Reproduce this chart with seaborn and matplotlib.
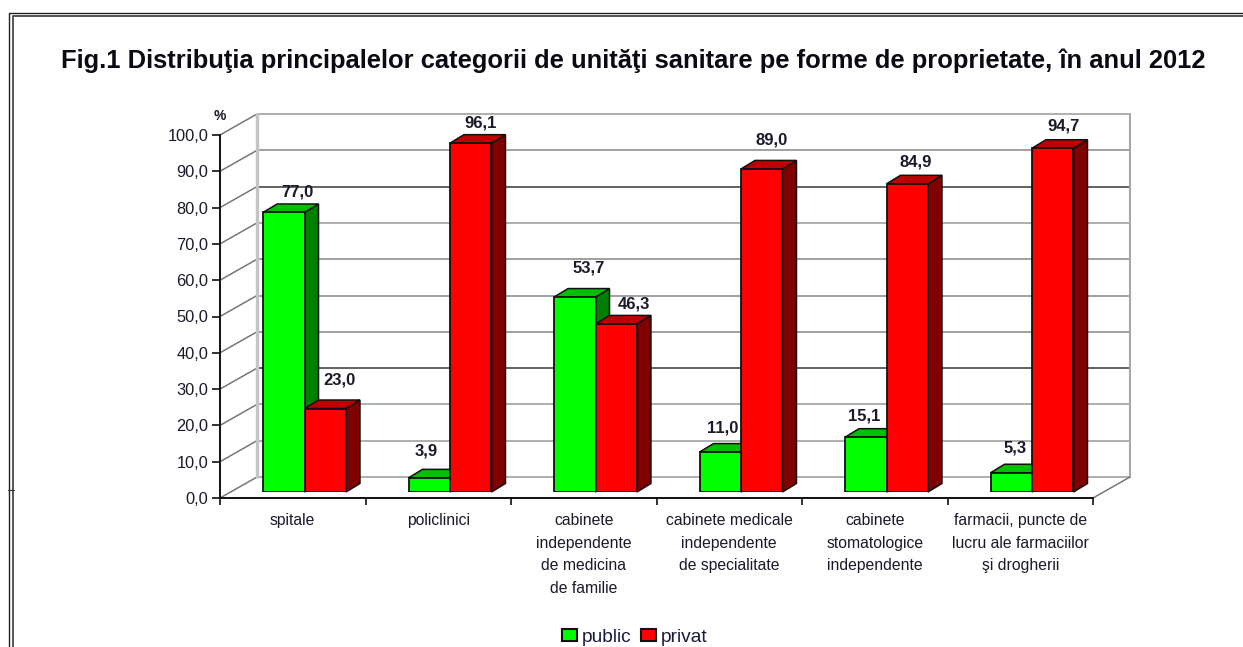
import pandas as pd
import seaborn as sns
import matplotlib.pyplot as plt
from matplotlib.lines import Line2D
from matplotlib.patches import Patch, Polygon
from matplotlib.transforms import IdentityTransform

categories = ['spitale', 'policlinici', 'cabinete\nindependente\nde medicina\nde familie',
              'cabinete medicale\nindependente\nde specialitate',
              'cabinete\nstomatologice\nindependente',
              'farmacii, puncte de\nlucru ale farmaciilor\nşi drogherii']
public = [77.0, 3.9, 53.7, 11.0, 15.1, 5.3]
privat = [23.0, 96.1, 46.3, 89.0, 84.9, 94.7]
y_ticks = [0, 10, 20, 30, 40, 50, 60, 70, 80, 90, 100]
# grid lines come out lighter or darker in the source image
grid_colors = ['#a8a8a8', '#a8a8a8', '#a8a8a8', '#555555', '#999999', '#999999',
               '#999999', '#a8a8a8', '#555555', '#999999', '#a8a8a8']

W, H = 1243, 647
FRONT = (220, 1093, 498, 135)   # left, right, bottom, top in image pixels
BAR_SHIFT = (11.75, 6)
WALL_SHIFT = (37, 21)
SIDE = (14, 8.5)

sns.set_theme(style='white')
plt.rcParams['font.family'] = ['Liberation Sans', 'DejaVu Sans']

df = pd.DataFrame({
    'cat': categories * 2,
    'forma': ['public'] * 6 + ['privat'] * 6,
    'val': public + privat,
})

fig = plt.figure(figsize=(W / 100, H / 100), dpi=100, facecolor='white')


def box(shift=(0, 0)):
    l, r, b, t = FRONT
    return [(l + shift[0]) / W, (H - b + shift[1]) / H, (r - l) / W, (b - t) / H]


ax_f = fig.add_axes(box(), zorder=1)
ax_f.patch.set_alpha(0)
ax_f.set_xlim(-0.5, 5.5)
ax_f.set_ylim(0, 100)
sns.despine(ax=ax_f)
for s in ['left', 'bottom']:
    ax_f.spines[s].set_linewidth(1.4)
    ax_f.spines[s].set_color('#111111')
ax_f.set_yticks(y_ticks)
ax_f.set_yticklabels([('%.1f' % v).replace('.', ',') for v in y_ticks], fontsize=11.8, color='#1a1a2a')
ax_f.set_xticks([i - 0.5 for i in range(7)])
ax_f.set_xticklabels([])
ax_f.set_xticks(range(6), labels=categories, minor=True, fontsize=11.3, color='#1a1a2a', linespacing=1.66, va='top')
ax_f.tick_params(axis='x', which='major', length=5, width=1.2, color='#111111', bottom=True)
ax_f.tick_params(axis='x', which='minor', length=0, pad=10.5)
ax_f.tick_params(axis='y', length=5.5, width=1.2, color='#111111', left=True, pad=3)

# back walls, in pixels relative to the front axes
trans = IdentityTransform()
wx, wy = WALL_SHIFT
for v, c in zip(y_ticks, grid_colors):
    x0, y0 = ax_f.transData.transform((-0.5, v))
    x1, _ = ax_f.transData.transform((5.5, v))
    ax_f.add_line(Line2D([x0, x0 + wx], [y0, y0 + wy], color='#777777', lw=1.1, transform=trans, clip_on=False, zorder=1))
    ax_f.add_line(Line2D([x0 + wx, x1 + wx], [y0 + wy, y0 + wy], color=c, lw=1.3, transform=trans, clip_on=False, zorder=1))
x0, y0 = ax_f.transData.transform((-0.5, 0))
x1, y1 = ax_f.transData.transform((5.5, 100))
ax_f.add_line(Line2D([x0 + wx] * 2, [y0 + wy, y1 + wy], color='#c4c4c4', lw=2.4, transform=trans, clip_on=False, zorder=1))
ax_f.add_line(Line2D([x1 + wx] * 2, [y0 + wy, y1 + wy], color='#a8a8a8', lw=1.5, transform=trans, clip_on=False, zorder=1))
ax_f.add_line(Line2D([x1, x1 + wx], [y0, y0 + wy], color='#777777', lw=1.1, transform=trans, clip_on=False, zorder=1))

ax = fig.add_axes(box(BAR_SHIFT), zorder=2)
ax.patch.set_alpha(0)
sns.barplot(data=df, x='cat', y='val', hue='forma', hue_order=['public', 'privat'],
            palette={'public': '#00ff00', 'privat': '#ff0000'}, width=0.57, gap=0, saturation=1,
            edgecolor='#111111', linewidth=1.3, legend=False, ax=ax, zorder=3)
ax.set_xlim(-0.5, 5.5)
ax.set_ylim(0, 100)
ax.axis('off')

# fake 3d sides, built from the real bar rectangles
sx, sy = SIDE
shades = [('#00c000', '#008000'), ('#c00000', '#800000')]
# nudges for the value labels, the source places them unevenly (pixels)
nudge_x = [[14, -3, 14, 2, -2, 4], [14, 10, 18, 10, 8, 11]]
nudge_y = [[20, 27, 29, 24, 21, 25], [29, 20, 20, 29, 22, 22]]
for k, cont in enumerate(ax.containers):
    for i, bar in enumerate(cont):
        bb = bar.get_window_extent()
        top = Polygon([(bb.x0, bb.y1), (bb.x1, bb.y1), (bb.x1 + sx, bb.y1 + sy), (bb.x0 + sx, bb.y1 + sy)],
                      fc=shades[k][0], ec='#111111', lw=1.1, transform=trans, clip_on=False, zorder=2)
        side = Polygon([(bb.x1, bb.y0), (bb.x1 + sx, bb.y0 + sy), (bb.x1 + sx, bb.y1 + sy), (bb.x1, bb.y1)],
                       fc=shades[k][1], ec='#111111', lw=1.1, transform=trans, clip_on=False, zorder=2)
        ax.add_patch(side)
        ax.add_patch(top)
        val = bar.get_height()
        ax.annotate(('%.1f' % val).replace('.', ','), (bar.get_x() + bar.get_width() / 2, val),
                    xytext=(nudge_x[k][i] * 0.72, nudge_y[k][i] * 0.72), textcoords='offset points',
                    ha='center', va='center', fontsize=12, fontweight='bold', color='#1a1a2a',
                    annotation_clip=False, zorder=5)

fig.text(633.5 / W, 1 - 60.5 / H, 'Fig.1 Distribuţia principalelor categorii de unităţi sanitare pe forme de proprietate, în anul 2012',
         ha='center', va='center', fontsize=18.34, fontweight='bold', color='#0a0a14')
fig.text(220 / W, 1 - 116 / H, '%', ha='center', va='center', fontsize=10, fontweight='bold', color='#1a1a2a')

handles = [Patch(fc='#00ff00', ec='#111111', lw=1.5, label='public'),
           Patch(fc='#ff0000', ec='#111111', lw=1.5, label='privat')]
fig.legend(handles=handles, loc='center', bbox_to_anchor=(634.5 / W, 1 - 637 / H), ncol=2, frameon=False,
           fontsize=13.8, handlelength=0.78, handleheight=0.62, handletextpad=0.25, columnspacing=0.5,
           borderpad=0, labelcolor='#1a1a3a')


# scanned page frame
def frame(xs, ys, c, lw):
    fig.add_artist(Line2D([x / W for x in xs], [1 - y / H for y in ys], color=c, lw=lw))


frame([8.5, 8.5, W], [H, 12.5, 12.5], '#222222', 1.0)
frame([13, 13, W], [H, 15.5, 15.5], '#555555', 1.4)
frame([8, 14], [490, 490], '#333333', 0.8)

fig.savefig('out.png', dpi=100, facecolor='white')
